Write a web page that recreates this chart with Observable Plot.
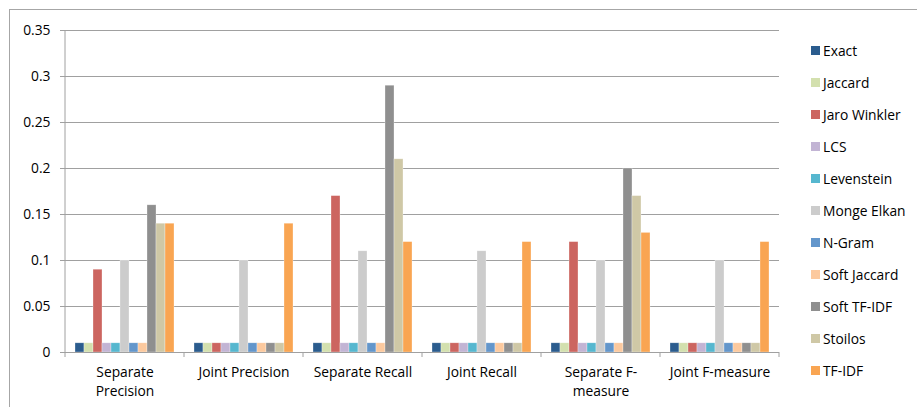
<!DOCTYPE html>
<html>
<head>
<meta charset="utf-8">
<script src="https://cdn.jsdelivr.net/npm/d3@7"></script>
<script src="https://cdn.jsdelivr.net/npm/@observablehq/plot@0.6"></script>
<style>
  body { margin: 0; background: #fff; font-family: "Open Sans", Lato, sans-serif; }
  #wrap { position: relative; width: 917px; height: 407px; overflow: hidden; background: #fff; }
  #frame { position: absolute; left: 9px; top: 9px; width: 1200px; height: 600px;
           border-left: 1.5px solid #a6a6a6; border-top: 1.5px solid #a6a6a6; }
  #chart { position: absolute; left: 0; top: 0; }
  #legend { position: absolute; left: 811px; top: 34px; font-size: 13.8px; color: #000; }
  #legend .item { height: 32.1px; display: flex; align-items: center; white-space: nowrap; }
  #legend .sw { width: 9px; height: 9px; margin-right: 3px; flex: none; }
</style>
</head>
<body>
<div id="wrap">
  <div id="frame"></div>
  <div id="chart"></div>
  <div id="legend"></div>
</div>
<script>
// Evaluation measures (groups along the x axis)
const categories = ["Separate Precision", "Joint Precision", "Separate Recall", "Joint Recall", "Separate F-measure", "Joint F-measure"];
const categoryLabels = ["Separate\nPrecision", "Joint Precision", "Separate Recall", "Joint Recall", "Separate F-\nmeasure", "Joint F-measure"];

// String similarity methods (series)
const methods = ["Exact", "Jaccard", "Jaro Winkler", "LCS", "Levenstein", "Monge Elkan", "N-Gram", "Soft Jaccard", "Soft TF-IDF", "Stoilos", "TF-IDF"];
const colors = ["#2b5c8e", "#d3e0ae", "#cc6560", "#c2b4d4", "#56b7cf", "#cccccc", "#6396cb", "#fcc99e", "#8f8f8f", "#cfc8a6", "#f9a552"];

// Scores per method, in the order of `categories`
const exact       = [0.01, 0.01, 0.01, 0.01, 0.01, 0.01];
const jaccard     = [0.01, 0.01, 0.01, 0.01, 0.01, 0.01];
const jaroWinkler = [0.09, 0.01, 0.17, 0.01, 0.12, 0.01];
const lcs         = [0.01, 0.01, 0.01, 0.01, 0.01, 0.01];
const levenstein  = [0.01, 0.01, 0.01, 0.01, 0.01, 0.01];
const mongeElkan  = [0.10, 0.10, 0.11, 0.11, 0.10, 0.10];
const nGram       = [0.01, 0.01, 0.01, 0.01, 0.01, 0.01];
const softJaccard = [0.01, 0.01, 0.01, 0.01, 0.01, 0.01];
const softTfIdf   = [0.16, 0.01, 0.29, 0.01, 0.20, 0.01];
const stoilos     = [0.14, 0.01, 0.21, 0.01, 0.17, 0.01];
const tfIdf       = [0.14, 0.14, 0.12, 0.12, 0.13, 0.12];

const yTicks = [0, 0.05, 0.1, 0.15, 0.2, 0.25, 0.3, 0.35];

const series = [exact, jaccard, jaroWinkler, lcs, levenstein, mongeElkan, nGram, softJaccard, softTfIdf, stoilos, tfIdf];
const data = methods.flatMap((method, i) =>
  series[i].map((value, j) => ({category: categories[j], method, value}))
);

const axisColor = "#a0a0a0";

// Per group: a boundary tick on its left edge (and right edge for the last
// group); the first group also carries the vertical value-axis line.
function groupEdges(index, scales, values, dimensions) {
  const {marginLeft} = dimensions;
  const k = index[0];
  const y0 = scales.y(0);
  const yTop = scales.y(yTicks[yTicks.length - 1]);
  const [r0, r1] = scales.x.range ? scales.x.range() : [marginLeft, marginLeft + 119.7];
  const g = d3.create("svg:g").attr("stroke", axisColor).attr("fill", "none");
  g.append("line").attr("x1", r0).attr("x2", r0).attr("y1", y0).attr("y2", y0 + 5);
  if (k === 0) {
    g.append("line").attr("x1", r0).attr("x2", r0).attr("y1", yTop).attr("y2", y0);
  }
  if (k === categories.length - 1) {
    g.append("line").attr("x1", r1).attr("x2", r1).attr("y1", y0).attr("y2", y0 + 5);
  }
  return g.node();
}

const chart = Plot.plot({
  width: 917,
  height: 407,
  marginLeft: 63,
  marginRight: 136,
  marginTop: 30,
  marginBottom: 55,
  style: {fontFamily: "'Open Sans', Lato, sans-serif", fontSize: "13.8px", color: "#000", background: "transparent", overflow: "visible"},
  fx: {domain: categories, paddingInner: 0, paddingOuter: 0, label: null},
  x: {domain: methods, paddingInner: 0, paddingOuter: 0.76, axis: null},
  y: {domain: [0, 0.35], label: null},
  color: {domain: methods, range: colors},
  marks: [
    Plot.gridY(yTicks, {stroke: axisColor, strokeOpacity: 1, strokeWidth: 1}),
    Plot.axisY(yTicks, {tickSize: 5, tickPadding: 10, stroke: axisColor, fill: "#000", tickFormat: d3.format("~g"), label: null}),
    Plot.barY(data, {fx: "category", x: "method", y: "value", fill: "method", stroke: "#fff", strokeOpacity: 0.5, strokeWidth: 0.6}),
    Plot.ruleY([0], {stroke: axisColor}),
    Plot.ruleY(categories, {fx: d => d, y: () => 0, render: groupEdges}),
    Plot.axisFx({anchor: "bottom", tickSize: 0, tickPadding: 11, lineHeight: 1.38, fill: "#000",
                 tickFormat: d => categoryLabels[categories.indexOf(d)], label: null})
  ]
});
document.getElementById("chart").appendChild(chart);

// Legend: one swatch per method, stacked vertically
const legend = d3.select("#legend");
methods.forEach((m, i) => {
  const item = legend.append("div").attr("class", "item");
  item.append("span").attr("class", "sw").style("background", colors[i]);
  item.append("span").text(m);
});
</script>
</body>
</html>
